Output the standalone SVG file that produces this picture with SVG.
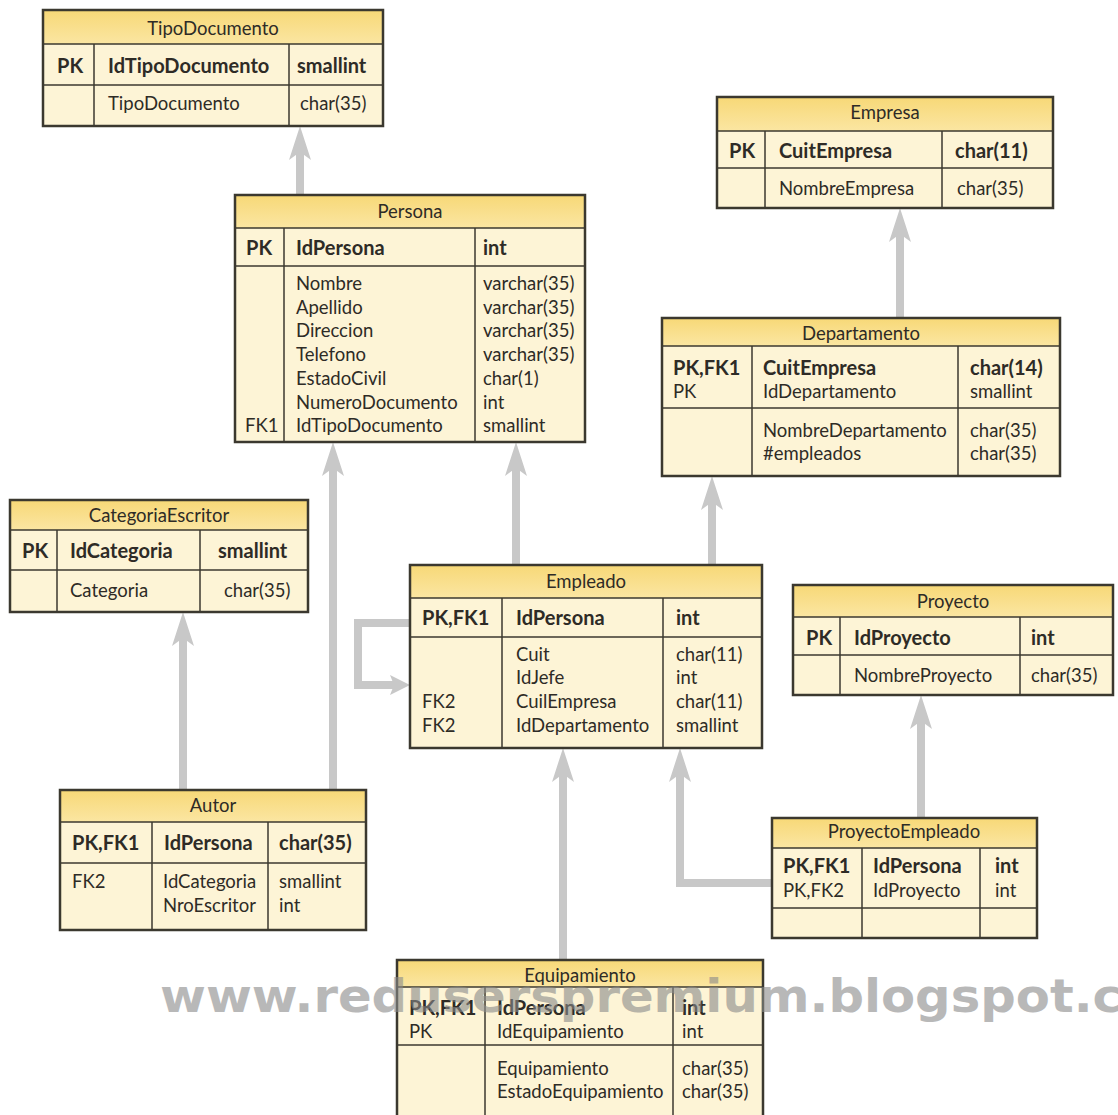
<svg xmlns="http://www.w3.org/2000/svg" width="1118" height="1115" viewBox="0 0 1118 1115">
<style>
.bd{fill:#fdf4d6}
.hd{fill:url(#hg)}
.fr{fill:none;stroke:#3b382f;stroke-width:2.5}
.ln{stroke:#3b382f;stroke-width:1.5}
text{font-family:Lato,"Open Sans","Liberation Sans",sans-serif;font-size:18.5px;fill:#2e2b26}
.b{font-weight:bold;font-size:20px}
.t{text-anchor:middle}
.conn{fill:none;stroke:#c8c8c8;stroke-width:8;stroke-linejoin:miter}
.wm{font-family:"DejaVu Sans",sans-serif;font-weight:bold;font-size:46px;fill:#8a8a8a;opacity:0.6}
</style>
<defs>
<linearGradient id="hg" x1="0" y1="0" x2="0" y2="1">
<stop offset="0" stop-color="#f7d877"/>
<stop offset="1" stop-color="#fbe6a2"/>
</linearGradient>
<marker id="ah" markerUnits="userSpaceOnUse" markerWidth="34" markerHeight="22" refX="14" refY="11" orient="auto">
<path d="M0,0 L34,11 L0,22 L8,11 Z" fill="#c8c8c8"/>
</marker>
<marker id="as" markerUnits="userSpaceOnUse" markerWidth="20" markerHeight="20" refX="10" refY="10" orient="auto">
<path d="M0,0 L20,10 L0,20 L4,10 Z" fill="#c8c8c8"/>
</marker>
</defs>
<rect width="1118" height="1115" fill="#ffffff"/>

<g id="connectors">
<path class="conn" d="M300,195 V146" marker-end="url(#ah)"/>
<path class="conn" d="M333,790 V462" marker-end="url(#ah)"/>
<path class="conn" d="M183,790 V632" marker-end="url(#ah)"/>
<path class="conn" d="M516,565 V462" marker-end="url(#ah)"/>
<path class="conn" d="M712,565 V496" marker-end="url(#ah)"/>
<path class="conn" d="M900,318 V228" marker-end="url(#ah)"/>
<path class="conn" d="M921,818 V715" marker-end="url(#ah)"/>
<path class="conn" d="M772,883 H680 V768" marker-end="url(#ah)"/>
<path class="conn" d="M563,960 V768" marker-end="url(#ah)"/>
<path class="conn" d="M410,623 H358 V685 H400" marker-end="url(#as)"/>
</g>

<g id="TipoDocumento">
<rect class="bd" x="43" y="10" width="340" height="116"/>
<rect class="hd" x="43" y="10" width="340" height="34"/>
<line class="ln" x1="43" y1="44" x2="383" y2="44"/>
<line class="ln" x1="43" y1="85" x2="383" y2="85"/>
<line class="ln" x1="94" y1="44" x2="94" y2="126"/>
<line class="ln" x1="289" y1="44" x2="289" y2="126"/>
<rect class="fr" x="43" y="10" width="340" height="116"/>
<text class="t" x="213" y="35">TipoDocumento</text>
<text class="b" x="57" y="73">PK</text>
<text class="b" x="108" y="73">IdTipoDocumento</text>
<text class="b" x="297" y="73">smallint</text>
<text x="108" y="110">TipoDocumento</text>
<text x="300" y="110">char(35)</text>
</g>

<g id="Persona">
<rect class="bd" x="235" y="195" width="350" height="247"/>
<rect class="hd" x="235" y="195" width="350" height="33"/>
<line class="ln" x1="235" y1="228" x2="585" y2="228"/>
<line class="ln" x1="235" y1="266" x2="585" y2="266"/>
<line class="ln" x1="284" y1="228" x2="284" y2="442"/>
<line class="ln" x1="475" y1="228" x2="475" y2="442"/>
<rect class="fr" x="235" y="195" width="350" height="247"/>
<text class="t" x="410" y="218">Persona</text>
<text class="b" x="246" y="255">PK</text>
<text class="b" x="296" y="255">IdPersona</text>
<text class="b" x="483" y="255">int</text>
<text x="296" y="290">Nombre</text><text x="483" y="290">varchar(35)</text>
<text x="296" y="313.7">Apellido</text><text x="483" y="313.7">varchar(35)</text>
<text x="296" y="337.4">Direccion</text><text x="483" y="337.4">varchar(35)</text>
<text x="296" y="361">Telefono</text><text x="483" y="361">varchar(35)</text>
<text x="296" y="384.8">EstadoCivil</text><text x="483" y="384.8">char(1)</text>
<text x="296" y="408.5">NumeroDocumento</text><text x="483" y="408.5">int</text>
<text x="245" y="432">FK1</text><text x="296" y="432">IdTipoDocumento</text><text x="483" y="432">smallint</text>
</g>

<g id="Empresa">
<rect class="bd" x="717" y="97" width="336" height="111"/>
<rect class="hd" x="717" y="97" width="336" height="34"/>
<line class="ln" x1="717" y1="131" x2="1053" y2="131"/>
<line class="ln" x1="717" y1="168" x2="1053" y2="168"/>
<line class="ln" x1="765" y1="131" x2="765" y2="208"/>
<line class="ln" x1="942" y1="131" x2="942" y2="208"/>
<rect class="fr" x="717" y="97" width="336" height="111"/>
<text class="t" x="885" y="119">Empresa</text>
<text class="b" x="729" y="158">PK</text>
<text class="b" x="779" y="158">CuitEmpresa</text>
<text class="b" x="955" y="158">char(11)</text>
<text x="779" y="195">NombreEmpresa</text>
<text x="957" y="195">char(35)</text>
</g>

<g id="Departamento">
<rect class="bd" x="662" y="318" width="398" height="158"/>
<rect class="hd" x="662" y="318" width="398" height="28"/>
<line class="ln" x1="662" y1="346" x2="1060" y2="346"/>
<line class="ln" x1="662" y1="408" x2="1060" y2="408"/>
<line class="ln" x1="752" y1="346" x2="752" y2="476"/>
<line class="ln" x1="958" y1="346" x2="958" y2="476"/>
<rect class="fr" x="662" y="318" width="398" height="158"/>
<text class="t" x="861" y="340">Departamento</text>
<text class="b" x="673" y="375">PK,FK1</text>
<text class="b" x="763" y="375">CuitEmpresa</text>
<text class="b" x="970" y="375">char(14)</text>
<text x="673" y="398">PK</text>
<text x="763" y="398">IdDepartamento</text>
<text x="970" y="398">smallint</text>
<text x="763" y="437">NombreDepartamento</text>
<text x="970" y="437">char(35)</text>
<text x="763" y="460">#empleados</text>
<text x="970" y="460">char(35)</text>
</g>

<g id="CategoriaEscritor">
<rect class="bd" x="10" y="500" width="298" height="112"/>
<rect class="hd" x="10" y="500" width="298" height="30"/>
<line class="ln" x1="10" y1="530" x2="308" y2="530"/>
<line class="ln" x1="10" y1="570" x2="308" y2="570"/>
<line class="ln" x1="57" y1="530" x2="57" y2="612"/>
<line class="ln" x1="200" y1="530" x2="200" y2="612"/>
<rect class="fr" x="10" y="500" width="298" height="112"/>
<text class="t" x="159" y="522">CategoriaEscritor</text>
<text class="b" x="22" y="558">PK</text>
<text class="b" x="70" y="558">IdCategoria</text>
<text class="b" x="218" y="558">smallint</text>
<text x="70" y="597">Categoria</text>
<text x="224" y="597">char(35)</text>
</g>

<g id="Empleado">
<rect class="bd" x="410" y="565" width="352" height="183"/>
<rect class="hd" x="410" y="565" width="352" height="33"/>
<line class="ln" x1="410" y1="598" x2="762" y2="598"/>
<line class="ln" x1="410" y1="637" x2="762" y2="637"/>
<line class="ln" x1="502" y1="598" x2="502" y2="748"/>
<line class="ln" x1="663" y1="598" x2="663" y2="748"/>
<rect class="fr" x="410" y="565" width="352" height="183"/>
<text class="t" x="586" y="588">Empleado</text>
<text class="b" x="422" y="625">PK,FK1</text>
<text class="b" x="516" y="625">IdPersona</text>
<text class="b" x="676" y="625">int</text>
<text x="516" y="661">Cuit</text><text x="676" y="661">char(11)</text>
<text x="516" y="684">IdJefe</text><text x="676" y="684">int</text>
<text x="422" y="708">FK2</text><text x="516" y="708">CuilEmpresa</text><text x="676" y="708">char(11)</text>
<text x="422" y="732">FK2</text><text x="516" y="732">IdDepartamento</text><text x="676" y="732">smallint</text>
</g>

<g id="Proyecto">
<rect class="bd" x="793" y="585" width="320" height="110"/>
<rect class="hd" x="793" y="585" width="320" height="32"/>
<line class="ln" x1="793" y1="617" x2="1113" y2="617"/>
<line class="ln" x1="793" y1="655" x2="1113" y2="655"/>
<line class="ln" x1="840" y1="617" x2="840" y2="695"/>
<line class="ln" x1="1020" y1="617" x2="1020" y2="695"/>
<rect class="fr" x="793" y="585" width="320" height="110"/>
<text class="t" x="953" y="608">Proyecto</text>
<text class="b" x="806" y="645">PK</text>
<text class="b" x="854" y="645">IdProyecto</text>
<text class="b" x="1031" y="645">int</text>
<text x="854" y="682">NombreProyecto</text>
<text x="1031" y="682">char(35)</text>
</g>

<g id="Autor">
<rect class="bd" x="60" y="790" width="306" height="140"/>
<rect class="hd" x="60" y="790" width="306" height="32"/>
<line class="ln" x1="60" y1="822" x2="366" y2="822"/>
<line class="ln" x1="60" y1="863" x2="366" y2="863"/>
<line class="ln" x1="152" y1="822" x2="152" y2="930"/>
<line class="ln" x1="268" y1="822" x2="268" y2="930"/>
<rect class="fr" x="60" y="790" width="306" height="140"/>
<text class="t" x="213" y="812">Autor</text>
<text class="b" x="72" y="850">PK,FK1</text>
<text class="b" x="164" y="850">IdPersona</text>
<text class="b" x="279" y="850">char(35)</text>
<text x="72" y="888">FK2</text>
<text x="163" y="888">IdCategoria</text>
<text x="279" y="888">smallint</text>
<text x="163" y="912">NroEscritor</text>
<text x="279" y="912">int</text>
</g>

<g id="ProyectoEmpleado">
<rect class="bd" x="772" y="818" width="265" height="120"/>
<rect class="hd" x="772" y="818" width="265" height="30"/>
<line class="ln" x1="772" y1="848" x2="1037" y2="848"/>
<line class="ln" x1="772" y1="908" x2="1037" y2="908"/>
<line class="ln" x1="862" y1="848" x2="862" y2="938"/>
<line class="ln" x1="980" y1="848" x2="980" y2="938"/>
<rect class="fr" x="772" y="818" width="265" height="120"/>
<text class="t" x="904" y="838">ProyectoEmpleado</text>
<text class="b" x="783" y="873">PK,FK1</text>
<text class="b" x="873" y="873">IdPersona</text>
<text class="b" x="995" y="873">int</text>
<text x="783" y="897">PK,FK2</text>
<text x="873" y="897">IdProyecto</text>
<text x="995" y="897">int</text>
</g>

<g id="Equipamiento">
<rect class="bd" x="397" y="960" width="366" height="170"/>
<rect class="hd" x="397" y="960" width="366" height="27"/>
<line class="ln" x1="397" y1="987" x2="763" y2="987"/>
<line class="ln" x1="397" y1="1045" x2="763" y2="1045"/>
<line class="ln" x1="485" y1="987" x2="485" y2="1130"/>
<line class="ln" x1="673" y1="987" x2="673" y2="1130"/>
<rect class="fr" x="397" y="960" width="366" height="170"/>
<text class="t" x="580" y="982">Equipamiento</text>
<text class="b" x="409" y="1015">PK,FK1</text>
<text class="b" x="497" y="1015">IdPersona</text>
<text class="b" x="682" y="1015">int</text>
<text x="409" y="1038">PK</text>
<text x="497" y="1038">IdEquipamiento</text>
<text x="682" y="1038">int</text>
<text x="497" y="1075">Equipamiento</text>
<text x="682" y="1075">char(35)</text>
<text x="497" y="1098">EstadoEquipamiento</text>
<text x="682" y="1098">char(35)</text>
</g>

<g id="watermark">
<text class="wm" x="160" y="1012" textLength="962" lengthAdjust="spacingAndGlyphs">www.reduserspremium.blogspot.c</text>
</g>
</svg>
